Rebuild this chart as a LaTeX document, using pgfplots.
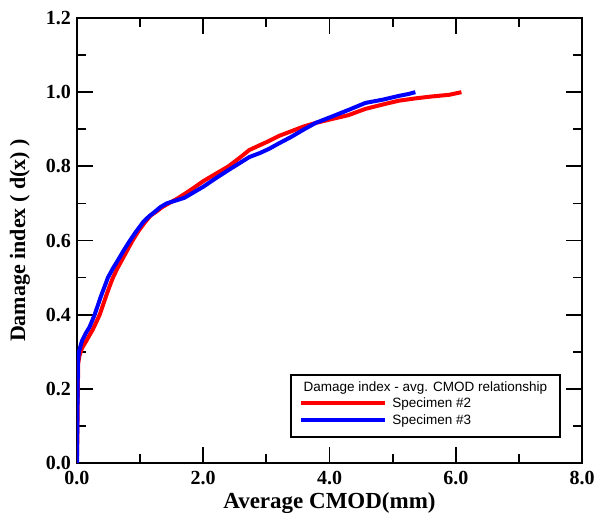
\documentclass[border=0pt]{standalone}
\usepackage{pgfplots}
\pgfplotsset{compat=1.18}
\usepackage{fontspec}
\setmainfont{Liberation Serif}
\newfontfamily\legfont{Liberation Sans}
\definecolor{myred}{RGB}{255,0,0}
\definecolor{myblue}{RGB}{0,0,255}
\begin{document}
\begin{tikzpicture}
\begin{axis}[
  at={(0pt,0pt)}, anchor=south west,
  scale only axis,
  width=505pt, height=445pt,
  xmin=0, xmax=8, ymin=0, ymax=1.2,
  xtick={0,2,4,6,8}, ytick={0,0.2,0.4,0.6,0.8,1.0,1.2},
  minor x tick num=1, minor y tick num=1,
  tick pos=both,
  tick align=inside,
  major tick length=16pt, minor tick length=9pt,
  every tick/.style={line width=1.8pt, black},
  axis line style={line width=2.2pt},
  /pgf/number format/assume math mode=true,
  /pgf/number format/fixed, /pgf/number format/zerofill, /pgf/number format/precision=1,
  tick label style={font=\bfseries\fontsize{20}{20}\selectfont},
  xticklabel style={yshift=-5pt},
  yticklabel style={xshift=-2.5pt},
  xlabel={Average CMOD(mm)},
  ylabel={Damage index ( d(x) )},
  xlabel style={font=\bfseries\fontsize{23}{23}\selectfont, at={(axis description cs:0.5,0)}, anchor=base, yshift=-45pt},
  ylabel style={font=\bfseries\fontsize{22}{22}\selectfont, at={(axis description cs:0,0.5)}, anchor=center, yshift=57pt},
  legend style={at={(axis cs:3.52,0.186)}, anchor=north west, draw=none, fill=none,
    font=\legfont\fontsize{13.5}{13.5}\selectfont, inner sep=0pt, row sep=0pt,
    nodes={inner sep=3pt}, column sep=2pt},
  legend cell align=left,
  legend image code/.code={\draw[#1, line width=4pt] (0pt,0pt) -- (84pt,0pt);},
]
\addplot[myred, line width=4pt] coordinates {
(-0.02,0) (0,0.02) (0.005,0.06) (0.01,0.15) (0.015,0.22) (0.02,0.27) (0.04,0.29) (0.08,0.31)
(0.15,0.33) (0.2,0.345) (0.25,0.36) (0.3,0.378) (0.36,0.40) (0.41,0.425) (0.46,0.45) (0.52,0.478) (0.57,0.50) (0.64,0.525) (0.72,0.55)
(0.8,0.575) (0.88,0.60) (0.98,0.627) (1.08,0.65) (1.17,0.668) (1.25,0.677) (1.35,0.69) (1.45,0.70) (1.58,0.712) (1.7,0.725) (1.85,0.742) (2.0,0.76)
(2.2,0.78) (2.4,0.80) (2.57,0.822) (2.73,0.844) (2.87,0.855) (3.0,0.865) (3.2,0.882) (3.4,0.895) (3.6,0.908) (3.78,0.917) (4.05,0.928) (4.3,0.938)
(4.57,0.955) (4.85,0.967) (5.1,0.977) (5.35,0.983) (5.6,0.988) (5.9,0.993) (6.09,1.0)
};
\addlegendentry{Specimen \#2}
\addplot[myblue, line width=4pt] coordinates {
(0,0) (0.005,0.1) (0.01,0.2) (0.015,0.27) (0.03,0.30) (0.08,0.33) (0.14,0.35) (0.2,0.367)
(0.28,0.40) (0.33,0.425) (0.38,0.45) (0.44,0.477) (0.49,0.50) (0.57,0.525) (0.66,0.55) (0.75,0.576) (0.84,0.60) (0.94,0.625) (1.05,0.65)
(1.14,0.665) (1.23,0.677) (1.32,0.69) (1.42,0.70) (1.55,0.707) (1.7,0.715) (1.85,0.73) (2.0,0.745) (2.2,0.768) (2.4,0.79) (2.57,0.808) (2.73,0.825)
(2.9,0.836) (3.04,0.847) (3.2,0.862) (3.4,0.88) (3.6,0.9) (3.78,0.917) (4.05,0.935) (4.3,0.952) (4.57,0.971) (4.85,0.98) (5.1,0.99)
(5.25,0.995) (5.36,1.0)
};
\addlegendentry{Specimen \#3}
\draw[line width=1.5pt] (axis cs:3.39,0.070) rectangle (axis cs:7.65,0.237);
\node[font=\legfont\fontsize{13.5}{13.5}\selectfont] at (axis cs:5.52,0.202) {Damage index - avg. CMOD relationship};
\end{axis}
\pgfresetboundingbox
\path[use as bounding box] (-77pt,-50pt) rectangle (519pt,463pt);
\end{tikzpicture}
\end{document}
